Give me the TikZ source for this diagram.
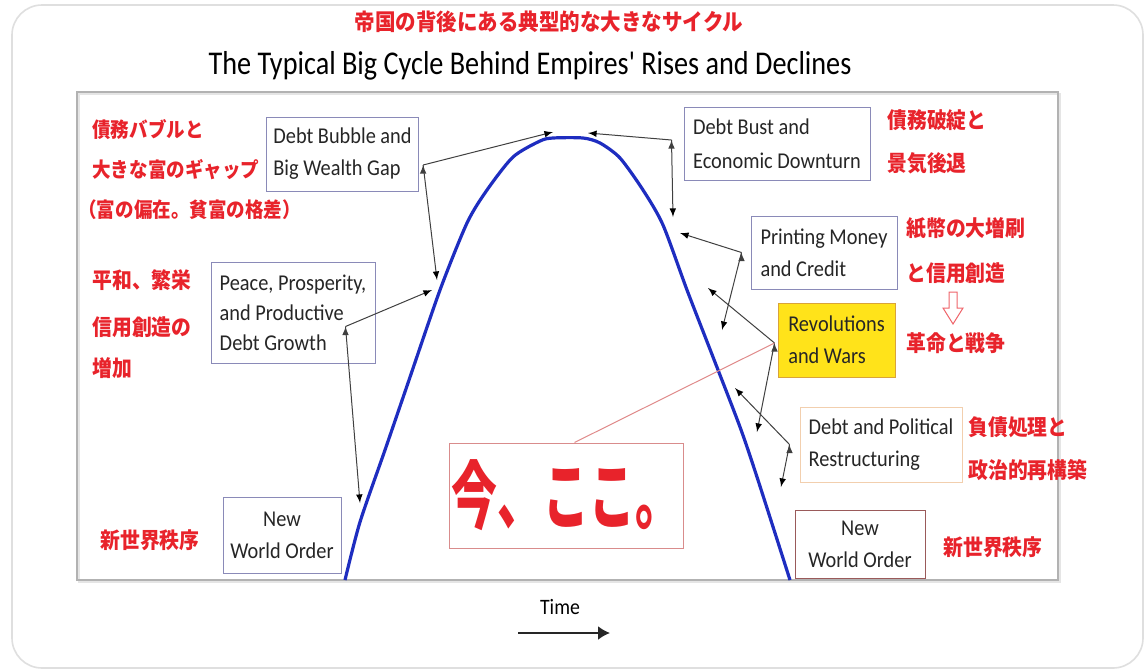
\documentclass[tikz,border=0pt]{standalone}
\usepackage{fontspec}
\setmainfont{Carlito}[FakeStretch=0.9]
\newfontfamily\jpfont{Noto Sans CJK JP}[FakeStretch=0.9]
\newfontfamily\jpwide{Noto Sans CJK JP}[FakeStretch=0.62]
\newfontfamily\titlefont{Carlito}[FakeStretch=0.85]
\usepackage{tikz}
\usetikzlibrary{calc}
\usetikzlibrary{arrows.meta}
\tikzset{>=latex}
\definecolor{jpred}{HTML}{E8232B}
\definecolor{boxblue}{HTML}{8A8AB8}
\definecolor{curveblue}{HTML}{1E2DC0}
\definecolor{revyellow}{HTML}{FFE31A}
\definecolor{revborder}{HTML}{D9A33A}
\definecolor{peach}{HTML}{F2CFAE}
\definecolor{brownred}{HTML}{9A5A5A}
\definecolor{nowborder}{HTML}{D98C8C}
\definecolor{nowline}{HTML}{E08A8A}

\begin{document}
\begin{tikzpicture}[x=0.5pt, y=-0.5pt,
  box/.style={draw=boxblue, line width=0.5pt, inner sep=3.5pt, align=left, text=black!85, font=\fontsize{11.3}{16}\selectfont},
  jp/.style={text=jpred, anchor=west, inner sep=0pt, font=\jpfont\bfseries\fontsize{11}{13}\selectfont},
  jps/.style={jp, font=\jpfont\bfseries\fontsize{10.3}{12}\selectfont},
  arr/.style={->, draw=black!75, line width=0.5pt}]
\useasboundingbox (0,0) rectangle (1146,670);
\fill[white] (0,0) rectangle (1146,670);
\draw[gray!25, line width=0.8pt, rounded corners=15pt] (12,5) rectangle (1143,668);
\draw[gray!20, line width=1.2pt] (79,94) rectangle (1060,582);
\draw[gray!60, line width=0.6pt] (77,92) rectangle (1058,580);

\node[text=jpred, font=\jpfont\bfseries\fontsize{11.4}{13}\selectfont] (jtitle) at (549,22) {帝国の背後にある典型的な大きなサイクル};
\node[font=\titlefont\fontsize{16.6}{18}\selectfont] (title) at (530,66) {The Typical Big Cycle Behind Empires' Rises and Declines};

\draw[curveblue, line width=1.6pt, line join=round] plot[smooth, tension=0.45] coordinates {(345,580) (360,522) (385,450) (408,383) (440,290) (467,223) (487,190) (513,157) (540,141) (553,138) (583,138) (600,143) (620,158) (643,190) (663,225) (687,290) (713,357) (740,427) (757,477) (790,580)};

\node[box, minimum width=73.5pt, minimum height=37pt] (bubble) at (342.5,154) {Debt Bubble and\\Big Wealth Gap};
\node[box, minimum width=82pt, minimum height=50.5pt, font=\fontsize{11.3}{15}\selectfont] (peace) at (293,312.5) {Peace, Prosperity,\\and Productive\\Debt Growth};
\node[box, align=center, minimum width=59pt, minimum height=38pt] (nwoL) at (282,535) {New\\World Order};
\node[box, minimum width=93pt, minimum height=36.5pt, font=\fontsize{11.3}{17}\selectfont] (bust) at (777,143.5) {Debt Bust and\\Economic Downturn};
\node[box, minimum width=73pt, minimum height=36.5pt] (print) at (824,252.5) {Printing Money\\and Credit};
\node[box, draw=revborder, fill=revyellow, minimum width=58.5pt, minimum height=37pt] (revol) at (836.5,340) {Revolutions\\and Wars};
\node[box, draw=peach, minimum width=81pt, minimum height=37.5pt] (restr) at (881,444.5) {Debt and Political\\Restructuring};
\node[box, draw=brownred, align=center, minimum width=65pt, minimum height=34pt] (nwoR) at (860,544) {New\\World Order};
\node[draw=nowborder, line width=0.5pt, inner sep=1pt, minimum width=116.5pt, minimum height=52.5pt, text=jpred, font=\jpwide\bfseries\fontsize{37}{40}\selectfont] (now) at (566.5,495.5) {今、ここ。};

\node[jps] (jl1) at (92,130) {債務バブルと};
\node[jps] (jl2) at (92,170) {大きな富のギャップ};
\node[jps] (jl3) at (78,210) {（富の偏在。貧富の格差）};
\node[jp] (jl4) at (92,280) {平和、繁栄};
\node[jp] (jl5) at (92,327) {信用創造の};
\node[jp] (jl6) at (92,368) {増加};
\node[jp] (jl7) at (100,540) {新世界秩序};
\node[jp] (jr1) at (887,120) {債務破綻と};
\node[jp] (jr2) at (887,163) {景気後退};
\node[jp] (jr3) at (906,228) {紙幣の大増刷};
\node[jp] (jr4) at (906,273) {と信用創造};
\node[jp] (jr5) at (906,343) {革命と戦争};
\node[jp] (jr6) at (968,427) {負債処理と};
\node[jp] (jr7) at (968,470) {政治的再構築};
\node[jp] (jr8) at (943,547) {新世界秩序};
\draw[jpred!70, line width=0.5pt, fill=white] (949,292) -- (957,292) -- (957,308) -- (963,308) -- (953,324) -- (943,308) -- (949,308) -- cycle;

\coordinate (bubA) at (553,132);
\coordinate (bubB) at (437,280);
\coordinate (peaA) at (432,290);
\coordinate (peaB) at (360,503);
\coordinate (bstA) at (588,133);
\coordinate (bstB) at (673,217);
\coordinate (prnA) at (680,233);
\coordinate (prnB) at (722,330);
\coordinate (revA) at (708,288);
\coordinate (revB) at (757,432);
\coordinate (rstA) at (735,388);
\coordinate (rstB) at (781,487);
\path[arr] ([xshift=2pt,yshift=-5.5pt]bubble.east) edge (bubA) edge (bubB);
\path[arr] ([xshift=-15pt,yshift=-7pt]peace.east) edge (peaA) edge (peaB);
\path[arr] ([xshift=-6pt,yshift=1.75pt]bust.west) edge (bstA) edge (bstB);
\path[arr] ([xshift=-4.5pt]print.west) edge (prnA) edge (prnB);
\path[arr] ([xshift=-1.5pt,yshift=-1.5pt]revol.west) edge (revA) edge (revB);
\path[arr] ([xshift=-5pt]restr.west) edge (rstA) edge (rstB);
\draw[nowline, line width=0.5pt] ([xshift=4pt]now.north) -- ([xshift=-1.5pt,yshift=-1.5pt]revol.west);

\node[font=\fontsize{11}{13}\selectfont] (time) at (560,607) {Time};
\coordinate (t0) at (518,633);
\coordinate (t1) at (610,633);
\draw[-{Latex[length=6pt,width=7pt]}, line width=1pt, black!85] (t0) -- (t1);
\end{tikzpicture}
\end{document}
